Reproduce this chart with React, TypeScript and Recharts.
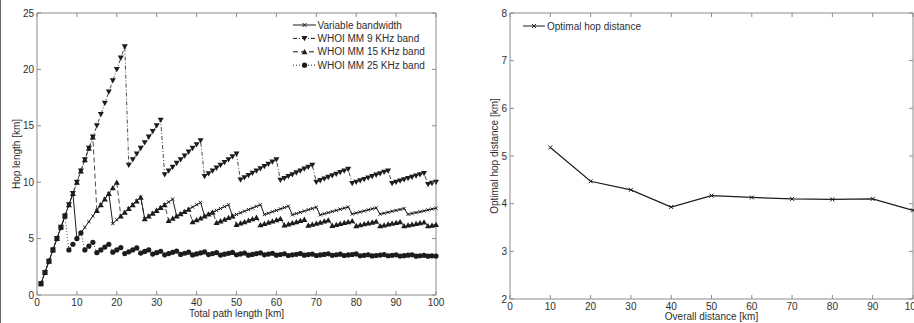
import React from 'react';
import { LineChart, Line, XAxis, YAxis, ReferenceArea, Legend } from 'recharts';

// ---- left panel: hop length vs total path length ----
const pathLength = [
  1, 2, 3, 4, 5, 6, 7, 8, 9, 10, 11, 12, 13, 14, 15, 16, 17, 18, 19, 20,
  21, 22, 23, 24, 25, 26, 27, 28, 29, 30, 31, 32, 33, 34, 35, 36, 37, 38, 39, 40,
  41, 42, 43, 44, 45, 46, 47, 48, 49, 50, 51, 52, 53, 54, 55, 56, 57, 58, 59, 60,
  61, 62, 63, 64, 65, 66, 67, 68, 69, 70, 71, 72, 73, 74, 75, 76, 77, 78, 79, 80,
  81, 82, 83, 84, 85, 86, 87, 88, 89, 90, 91, 92, 93, 94, 95, 96, 97, 98, 99, 100,
];

const variableBandwidth = [
  1, 2, 3, 4, 5, 6, 7, 8, 9,
  5, 5.5, 6, 6.5, 7, 7.5, 8, 8.5, 9,
  6.33, 6.67, 7, 7.33, 7.67, 8, 8.33, 8.67,
  6.75, 7, 7.25, 7.5, 7.75, 8, 8.25, 8.5,
  7, 7.2, 7.4, 7.6, 7.8, 8, 8.2,
  7, 7.17, 7.33, 7.5, 7.67, 7.83, 8,
  7, 7.14, 7.29, 7.43, 7.57, 7.71, 7.86, 8,
  7.13, 7.25, 7.38, 7.5, 7.63, 7.75, 7.88,
  7.11, 7.22, 7.33, 7.44, 7.56, 7.67, 7.78,
  7.1, 7.2, 7.3, 7.4, 7.5, 7.6, 7.7, 7.8,
  7.18, 7.27, 7.36, 7.45, 7.55, 7.64, 7.73,
  7.17, 7.25, 7.33, 7.42, 7.5, 7.58, 7.67,
  7.15, 7.23, 7.31, 7.38, 7.46, 7.54, 7.62, 7.69,
];

const whoi9 = [
  1, 2, 3, 4, 5, 6, 7, 8, 9, 10, 11, 12, 13, 14, 15, 16, 17, 18, 19, 20, 21, 22,
  11.5, 12, 12.5, 13, 13.5, 14, 14.5, 15, 15.5,
  10.67, 11, 11.33, 11.67, 12, 12.33, 12.67, 13, 13.33, 13.67,
  10.5, 10.75, 11, 11.25, 11.5, 11.75, 12, 12.25, 12.5,
  10.2, 10.4, 10.6, 10.8, 11, 11.2, 11.4, 11.6, 11.8, 12,
  10.17, 10.33, 10.5, 10.67, 10.83, 11, 11.17, 11.33, 11.5,
  10, 10.14, 10.29, 10.43, 10.57, 10.71, 10.86, 11, 11.14,
  9.88, 10, 10.13, 10.25, 10.38, 10.5, 10.63, 10.75, 10.88, 11,
  9.89, 10, 10.11, 10.22, 10.33, 10.44, 10.56, 10.67, 10.78,
  9.8, 9.9, 10,
];

const whoi15 = [
  1, 2, 3, 4, 5, 6, 7, 8, 9, 10, 11, 12, 13, 14,
  7.5, 8, 8.5, 9, 9.5, 10,
  7, 7.33, 7.67, 8, 8.33, 8.67,
  6.75, 7, 7.25, 7.5, 7.75, 8,
  6.6, 6.8, 7, 7.2, 7.4, 7.6,
  6.5, 6.67, 6.83, 7, 7.17, 7.33,
  6.43, 6.57, 6.71, 6.86, 7,
  6.25, 6.38, 6.5, 6.63, 6.75, 6.88,
  6.22, 6.33, 6.44, 6.56, 6.67, 6.78,
  6.2, 6.3, 6.4, 6.5, 6.6, 6.7,
  6.18, 6.27, 6.36, 6.45, 6.55, 6.64,
  6.17, 6.25, 6.33, 6.42, 6.5, 6.58,
  6.15, 6.23, 6.31, 6.38, 6.46, 6.54,
  6.14, 6.21, 6.29, 6.36, 6.43, 6.5,
  6.13, 6.2, 6.27, 6.33, 6.4, 6.47,
  6.13, 6.19, 6.25,
];

const whoi25 = [
  1, 2, 3, 4, 5, 6, 7,
  4, 4.5, 5, 5.5,
  4, 4.33, 4.67,
  3.75, 4, 4.25, 4.5,
  3.8, 4, 4.2,
  3.67, 3.83, 4, 4.17,
  3.71, 3.86, 4,
  3.63, 3.75, 3.88,
  3.56, 3.67, 3.78, 3.89,
  3.6, 3.7, 3.8,
  3.55, 3.64, 3.73, 3.82,
  3.58, 3.67, 3.75,
  3.54, 3.62, 3.69, 3.77,
  3.57, 3.64, 3.71,
  3.53, 3.6, 3.67, 3.73,
  3.56, 3.63, 3.69,
  3.53, 3.59, 3.65,
  3.5, 3.56, 3.61, 3.67,
  3.53, 3.58, 3.63,
  3.5, 3.55, 3.6, 3.65,
  3.52, 3.57, 3.62,
  3.5, 3.55, 3.59, 3.64,
  3.48, 3.52, 3.57,
  3.46, 3.5, 3.54, 3.58,
  3.48, 3.52, 3.56,
  3.45, 3.49, 3.53, 3.57,
  3.44, 3.48, 3.52,
  3.44, 3.47, 3.45,
];

const pathTicks = [0, 10, 20, 30, 40, 50, 60, 70, 80, 90, 100];
const hopTicks = [0, 5, 10, 15, 20, 25];

// ---- right panel: optimal hop distance ----
const overallDistance = [10, 20, 30, 40, 50, 60, 70, 80, 90, 100];
const optimalHop = [5.18, 4.47, 4.29, 3.93, 4.17, 4.13, 4.1, 4.09, 4.1, 3.86];
const distanceTicks = [0, 10, 20, 30, 40, 50, 60, 70, 80, 90, 100];
const optTicks = [2, 3, 4, 5, 6, 7, 8];

const hopData = pathLength.map((x, i) => ({
  x,
  vb: variableBandwidth[i],
  k9: whoi9[i],
  k15: whoi15[i],
  k25: whoi25[i],
}));
const optData = overallDistance.map((x, i) => ({ x, hop: optimalHop[i] }));

const FONT = '"Liberation Sans", Arial, Helvetica, sans-serif';
const TEXT = '#2e2e2e';
const FRAME = '#8c8c8c';
const INK = '#1c1c1c';

type Shape = 'cross' | 'down' | 'up' | 'circle';

function marker(shape: Shape, cx: number, cy: number, key?: string, size = 2) {
  switch (shape) {
    case 'cross':
      return (
        <path
          key={key}
          d={`M${cx - size},${cy - size}L${cx + size},${cy + size}M${cx - size},${cy + size}L${cx + size},${cy - size}`}
          stroke={INK}
          strokeWidth={1}
          fill="none"
        />
      );
    case 'down':
      return <path key={key} d={`M${cx - 3},${cy - 2.5}L${cx + 3},${cy - 2.5}L${cx},${cy + 2.8}Z`} fill={INK} />;
    case 'up':
      return <path key={key} d={`M${cx - 3},${cy + 2.5}L${cx + 3},${cy + 2.5}L${cx},${cy - 2.8}Z`} fill={INK} />;
    default:
      return <circle key={key} cx={cx} cy={cy} r={2.6} fill={INK} />;
  }
}

const dotRenderer = (shape: Shape, size = 2) => (props: any) => {
  const { cx, cy, index } = props;
  if (cx == null || cy == null) return <g key={`${shape}-${index}`} />;
  return marker(shape, cx, cy, `${shape}-${index}`, size);
};

const seriesStyle: Record<string, { shape: Shape; dash?: string }> = {
  vb: { shape: 'cross' },
  k9: { shape: 'down', dash: '4 2 1 2' },
  k15: { shape: 'up', dash: '5 3' },
  k25: { shape: 'circle', dash: '1 2' },
  hop: { shape: 'cross' },
};
const legendOrder = ['vb', 'k9', 'k15', 'k25', 'hop'];

interface Box {
  left: number;
  right: number;
  top: number;
  bottom: number;
}

const makeXTick = (box: Box) => (props: any) => {
  const { x, payload } = props;
  return (
    <g>
      <line x1={x} x2={x} y1={box.bottom} y2={box.bottom - 4} stroke={FRAME} />
      <line x1={x} x2={x} y1={box.top} y2={box.top + 4} stroke={FRAME} />
      <text x={x} y={box.bottom + 11} textAnchor="middle" fontSize={10} fontFamily={FONT} fill={TEXT}>
        {payload.value}
      </text>
    </g>
  );
};

const makeYTick = (box: Box) => (props: any) => {
  const { y, payload } = props;
  return (
    <g>
      <line x1={box.left} x2={box.left + 4} y1={y} y2={y} stroke={FRAME} />
      <line x1={box.right} x2={box.right - 4} y1={y} y2={y} stroke={FRAME} />
      <text x={box.left - 3} y={y + 3.5} textAnchor="end" fontSize={10} fontFamily={FONT} fill={TEXT}>
        {payload.value}
      </text>
    </g>
  );
};

const xTitle = (box: Box, text: string, dy: number) => () => (
  <text x={(box.left + box.right) / 2} y={box.bottom + dy} textAnchor="middle" fontSize={10} fontFamily={FONT} fill={TEXT}>
    {text}
  </text>
);

const yTitle = (box: Box, text: string, x: number) => () => {
  const cy = (box.top + box.bottom) / 2;
  return (
    <text
      x={x}
      y={cy}
      transform={`rotate(-90 ${x} ${cy})`}
      textAnchor="middle"
      dominantBaseline="central"
      fontSize={10}
      fontFamily={FONT}
      fill={TEXT}
    >
      {text}
    </text>
  );
};

const makeLegend = (lineW: number, textX: number, rowH: number) => (props: any) => {
  const payload = [...(props.payload || [])].sort(
    (a: any, b: any) => legendOrder.indexOf(a.dataKey) - legendOrder.indexOf(b.dataKey),
  );
  return (
    <svg width={160} height={rowH * payload.length + 4} style={{ overflow: 'visible' }}>
      {payload.map((entry: any, i: number) => {
        const y = 7 + i * rowH;
        const s = seriesStyle[entry.dataKey];
        return (
          <g key={entry.dataKey}>
            <line x1={0} x2={lineW} y1={y} y2={y} stroke={INK} strokeWidth={1} strokeDasharray={s.dash} />
            {marker(s.shape, lineW / 2, y)}
            <text x={textX} y={y + 3.5} fontSize={10} fontFamily={FONT} fill={TEXT}>
              {entry.value}
            </text>
          </g>
        );
      })}
    </svg>
  );
};

const leftBox: Box = { left: 37, right: 436, top: 13, bottom: 295 };
const rightBox: Box = { left: 50, right: 453, top: 13, bottom: 299 };

function HopLengthChart() {
  return (
    <LineChart width={460} height={323} data={hopData} margin={{ top: 13, right: 24, bottom: 0, left: 0 }}>
      <ReferenceArea x1={0} x2={100} y1={0} y2={25} fill="none" stroke={FRAME} strokeWidth={1} ifOverflow="extendDomain" />
      <XAxis
        dataKey="x"
        type="number"
        domain={[0, 100]}
        ticks={pathTicks}
        interval={0}
        height={28}
        axisLine={false}
        tickLine={false}
        tick={makeXTick(leftBox)}
        label={xTitle(leftBox, 'Total path length [km]', 22)}
      />
      <YAxis
        type="number"
        domain={[0, 25]}
        ticks={hopTicks}
        interval={0}
        width={37}
        axisLine={false}
        tickLine={false}
        tick={makeYTick(leftBox)}
        label={yTitle(leftBox, 'Hop length [km]', 16)}
      />
      <Line name="Variable bandwidth" dataKey="vb" type="linear" stroke={INK} strokeWidth={1} dot={dotRenderer('cross', 1.6)} activeDot={false} isAnimationActive={false} />
      <Line name="WHOI MM 9 KHz band" dataKey="k9" type="linear" stroke={INK} strokeWidth={0.8} strokeDasharray="4 2 1 2" dot={dotRenderer('down')} activeDot={false} isAnimationActive={false} />
      <Line name="WHOI MM 15 KHz band" dataKey="k15" type="linear" stroke={INK} strokeWidth={0.8} strokeDasharray="5 3" dot={dotRenderer('up')} activeDot={false} isAnimationActive={false} />
      <Line name="WHOI MM 25 KHz band" dataKey="k25" type="linear" stroke={INK} strokeWidth={0.8} strokeDasharray="1 2" dot={dotRenderer('circle')} activeDot={false} isAnimationActive={false} />
      <Legend
        layout="vertical"
        align="center"
        verticalAlign="middle"
        content={makeLegend(23, 24.5, 13.4)}
        wrapperStyle={{ left: 293, top: 18, width: 160, height: 58 }}
      />
    </LineChart>
  );
}

function OptimalHopChart() {
  return (
    <LineChart width={460} height={323} data={optData} margin={{ top: 13, right: 7, bottom: 0, left: 0 }}>
      <ReferenceArea x1={0} x2={100} y1={2} y2={8} fill="none" stroke={FRAME} strokeWidth={1} ifOverflow="extendDomain" />
      <XAxis
        dataKey="x"
        type="number"
        domain={[0, 100]}
        ticks={distanceTicks}
        interval={0}
        height={24}
        axisLine={false}
        tickLine={false}
        tick={makeXTick(rightBox)}
        label={xTitle(rightBox, 'Overall distance [km]', 21)}
      />
      <YAxis
        type="number"
        domain={[2, 8]}
        ticks={optTicks}
        interval={0}
        width={50}
        axisLine={false}
        tickLine={false}
        tick={makeYTick(rightBox)}
        label={yTitle(rightBox, 'Optimal hop distance [km]', 34)}
      />
      <Line name="Optimal hop distance" dataKey="hop" type="linear" stroke={INK} strokeWidth={1.2} dot={dotRenderer('cross', 2)} activeDot={false} isAnimationActive={false} />
      <Legend
        layout="vertical"
        align="center"
        verticalAlign="middle"
        content={makeLegend(22, 24, 13.4)}
        wrapperStyle={{ left: 63, top: 19, width: 160, height: 18 }}
      />
    </LineChart>
  );
}

export default function App() {
  return (
    <div
      style={{
        position: 'absolute',
        left: 0,
        top: 0,
        width: 914,
        height: 323,
        overflow: 'hidden',
        background: '#fff',
        fontFamily: FONT,
      }}
    >
      <div style={{ position: 'absolute', left: 0, top: 0, width: 1, height: 323, background: '#666' }} />
      <div style={{ position: 'absolute', left: 0, top: 0 }}>
        <HopLengthChart />
      </div>
      <div style={{ position: 'absolute', left: 460, top: 0 }}>
        <OptimalHopChart />
      </div>
    </div>
  );
}
